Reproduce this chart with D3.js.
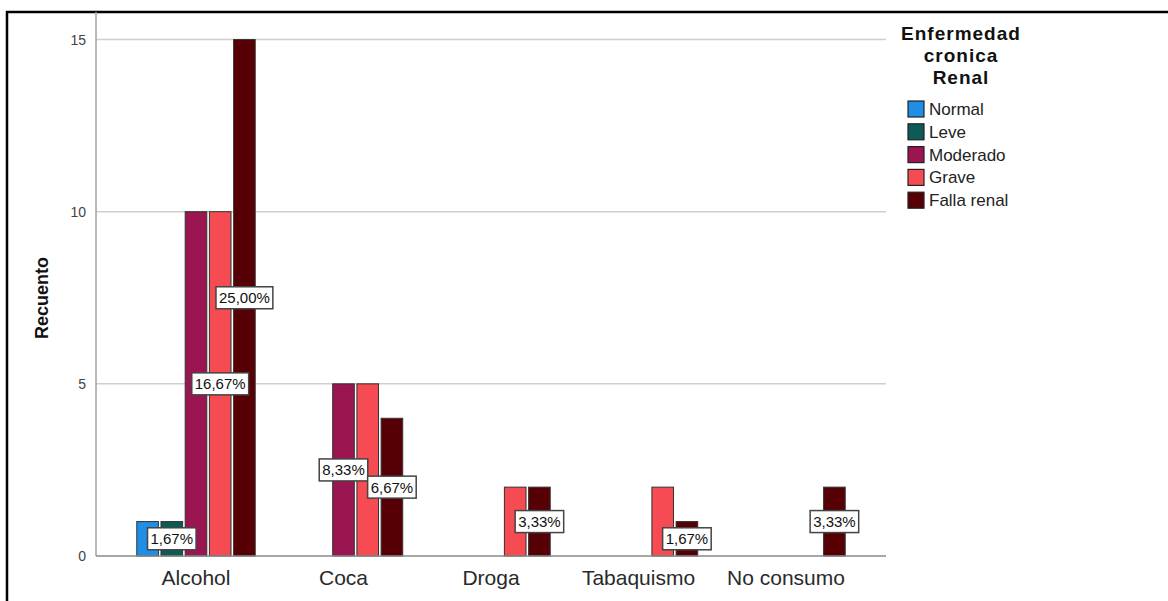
<!DOCTYPE html>
<html>
<head>
<meta charset="utf-8">
<script src="https://cdn.jsdelivr.net/npm/d3@7"></script>
<style>
  body { margin: 0; background: #fff; }
  text { font-family: Arial, "Liberation Sans", sans-serif; }
</style>
</head>
<body>
<svg id="chart"></svg>
<script>
var categories = ["Alcohol", "Coca", "Droga", "Tabaquismo", "No consumo"];
var series = ["Normal", "Leve", "Moderado", "Grave", "Falla renal"];
var colors = ["#1f8ee6", "#0c5b56", "#9b1650", "#f74b54", "#560006"];

// counts per category, one array per series
var normal = [1, 0, 0, 0, 0];
var leve = [1, 0, 0, 0, 0];
var moderado = [10, 5, 0, 0, 0];
var grave = [10, 5, 2, 2, 0];
var fallaRenal = [15, 4, 2, 1, 2];

var yTicks = [0, 5, 10, 15];

// percent labels shown on the bars
var labelCategory = ["Alcohol", "Alcohol", "Alcohol", "Coca", "Coca", "Droga", "Tabaquismo", "No consumo"];
var labelSeries = ["Leve", "Grave", "Falla renal", "Moderado", "Falla renal", "Falla renal", "Falla renal", "Falla renal"];
var labelText = ["1,67%", "16,67%", "25,00%", "8,33%", "6,67%", "3,33%", "1,67%", "3,33%"];

(function () {
  var width = 1168,
    height = 601;
  var plot = { left: 96, right: 886, top: 12, bottom: 556 };

  var values = [normal, leve, moderado, grave, fallaRenal];

  var svg = d3.select("#chart")
    .attr("width", width)
    .attr("height", height);

  var x0 = d3.scaleBand()
    .domain(categories)
    .range([plot.left, plot.right])
    .paddingInner(0.197)
    .paddingOuter(0.2765);

  var x1 = d3.scaleBand()
    .domain(series)
    .range([0, x0.bandwidth()])
    .paddingInner(0.107);

  var y = d3.scaleLinear()
    .domain([0, 15.8])
    .range([plot.bottom, plot.top]);

  // frame lines
  svg.append("line")
    .attr("x1", 6).attr("x2", width)
    .attr("y1", 12).attr("y2", 12)
    .attr("stroke", "#000").attr("stroke-width", 2.5);
  svg.append("line")
    .attr("x1", 7).attr("x2", 7)
    .attr("y1", 11).attr("y2", height)
    .attr("stroke", "#000").attr("stroke-width", 2.5);

  // grid lines
  svg.selectAll(".grid")
    .data(yTicks.filter(function (d) { return d > 0; }))
    .enter().append("line")
    .attr("class", "grid")
    .attr("x1", plot.left).attr("x2", plot.right)
    .attr("y1", function (d) { return y(d); })
    .attr("y2", function (d) { return y(d); })
    .attr("stroke", "#cfcfcf")
    .attr("stroke-width", 1.5);

  // y axis
  var yAxis = svg.append("g")
    .attr("transform", "translate(" + plot.left + ",0)")
    .call(d3.axisLeft(y).tickValues(yTicks).tickSize(0).tickPadding(10));
  yAxis.select(".domain").remove();
  yAxis.selectAll("text")
    .style("font-size", "14px")
    .attr("fill", "#444");

  svg.append("line")
    .attr("x1", plot.left).attr("x2", plot.left)
    .attr("y1", plot.top).attr("y2", plot.bottom)
    .attr("stroke", "#a0a0a0").attr("stroke-width", 1.5);

  // y axis title
  svg.append("text")
    .attr("transform", "translate(48," + ((plot.top + plot.bottom) / 2 + 14) + ") rotate(-90)")
    .style("text-anchor", "middle")
    .style("font-size", "18px")
    .style("font-weight", "bold")
    .attr("fill", "#111")
    .text("Recuento");

  // bars
  var barData = [];
  categories.forEach(function (c, ci) {
    series.forEach(function (s, si) {
      if (values[si][ci] > 0) {
        barData.push({ cat: c, ser: s, value: values[si][ci], color: colors[si] });
      }
    });
  });

  svg.selectAll(".bar")
    .data(barData)
    .enter().append("rect")
    .attr("class", "bar")
    .attr("x", function (d) { return x0(d.cat) + x1(d.ser); })
    .attr("y", function (d) { return y(d.value); })
    .attr("width", x1.bandwidth())
    .attr("height", function (d) { return y(0) - y(d.value); })
    .attr("fill", function (d) { return d.color; })
    .attr("stroke", "#333")
    .attr("stroke-width", 1);

  // baseline
  svg.append("line")
    .attr("x1", plot.left).attr("x2", plot.right)
    .attr("y1", y(0)).attr("y2", y(0))
    .attr("stroke", "#8a8a8a").attr("stroke-width", 1.5);

  // x axis labels
  var xAxis = svg.append("g")
    .attr("transform", "translate(0," + y(0) + ")")
    .call(d3.axisBottom(x0).tickSize(0).tickPadding(14));
  xAxis.select(".domain").remove();
  xAxis.selectAll("text")
    .style("font-size", "21px")
    .attr("fill", "#2a2a2a");

  // percent labels
  labelText.forEach(function (t, i) {
    var si = series.indexOf(labelSeries[i]);
    var ci = categories.indexOf(labelCategory[i]);
    var v = values[si][ci];
    var cx = x0(labelCategory[i]) + x1(labelSeries[i]) + x1.bandwidth() / 2;
    var cy = y(v / 2);
    var g = svg.append("g");
    var box = g.append("rect");
    var txt = g.append("text")
      .attr("x", cx)
      .attr("y", cy + 5.5)
      .style("text-anchor", "middle")
      .style("font-size", "15px")
      .attr("fill", "#111")
      .text(t);
    var w = txt.node().getComputedTextLength() + 6;
    box.attr("x", cx - w / 2)
      .attr("y", cy - 11)
      .attr("width", w)
      .attr("height", 22)
      .attr("fill", "#fff")
      .attr("stroke", "#444")
      .attr("stroke-width", 1.5);
  });

  // legend
  var legend = svg.append("g");
  var titleLines = ["Enfermedad", "cronica", "Renal"];
  legend.selectAll(".ltitle")
    .data(titleLines)
    .enter().append("text")
    .attr("class", "ltitle")
    .attr("x", 961)
    .attr("y", function (d, i) { return 40 + i * 22; })
    .style("text-anchor", "middle")
    .style("font-size", "19px")
    .style("letter-spacing", "1px")
    .style("font-weight", "bold")
    .attr("fill", "#111")
    .text(function (d) { return d; });

  var items = legend.selectAll(".litem")
    .data(series)
    .enter().append("g")
    .attr("class", "litem")
    .attr("transform", function (d, i) { return "translate(908," + (101 + i * 22.8) + ")"; });

  items.append("rect")
    .attr("width", 16)
    .attr("height", 16)
    .attr("fill", function (d, i) { return colors[i]; })
    .attr("stroke", "#222")
    .attr("stroke-width", 1.2);

  items.append("text")
    .attr("x", 21)
    .attr("y", 14)
    .style("font-size", "17px")
    .attr("fill", "#222")
    .text(function (d) { return d; });
})();
</script>
</body>
</html>
